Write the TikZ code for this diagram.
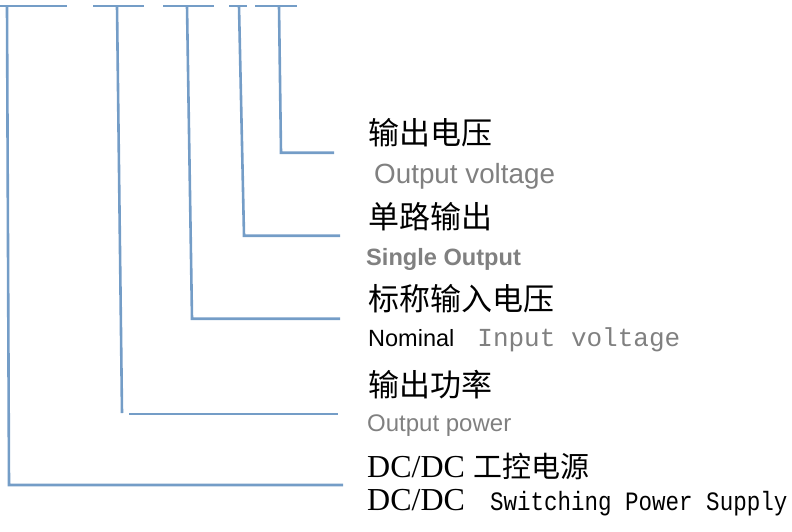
\documentclass[tikz,border=0pt]{standalone}
\usepackage{fontspec}
\setmainfont{Liberation Serif}
\setsansfont{Liberation Sans}
\setmonofont{Liberation Mono}
\newfontfamily\cjk{Noto Sans CJK SC}
\newfontfamily\narrowmono[FakeStretch=0.85]{Liberation Mono}
\usepackage{tikz}
\definecolor{leadblue}{RGB}{116,157,199}
\definecolor{labelgray}{RGB}{128,128,128}

\begin{document}
\begin{tikzpicture}[
  x=1pt, y=-1pt,
  lead/.style={draw=leadblue, line width=2.6pt},
  zh/.style={anchor=base west, inner sep=0pt, font=\cjk\fontsize{31}{31}\selectfont},
  en/.style={anchor=base west, inner sep=0pt, text=labelgray, font=\sffamily\fontsize{27.8}{27.8}\selectfont}
]
\useasboundingbox (0,0) rectangle (792,531);

% Code bars
\draw[lead] (0,6) -- (67,6);
\draw[lead] (93,6) -- (144,6);
\draw[lead] (163,6) -- (214,6);
\draw[lead] (229,6) -- (247,6);
\draw[lead] (255,6) -- (297,6);

% Labels
\node[zh] (vout) at (368,144) {输出电压};
\node[en] (voutE) at (374,183) {Output voltage};
\node[zh] (single) at (368,228) {单路输出};
\node[en, font=\sffamily\bfseries\fontsize{23.6}{23.6}\selectfont] (singleE) at (366,265) {Single Output};
\node[zh] (vin) at (368,310) {标称输入电压};
\node[anchor=base west, inner sep=0pt, font=\sffamily\fontsize{23.5}{23.5}\selectfont] (vinE) at (368,346.5)
  {Nominal\hspace{23pt}\textcolor{labelgray}{\ttfamily\fontsize{26}{26}\selectfont Input voltage}};
\node[zh] (pout) at (368,396) {输出功率};
\node[en, font=\sffamily\fontsize{24}{24}\selectfont] (poutE) at (367,431.5) {Output power};
\node[anchor=base west, inner sep=0pt, font=\fontsize{32}{32}\selectfont] (supply) at (367,477)
  {DC/DC {\cjk\fontsize{29}{29}\selectfont 工控电源}};
\node[anchor=base west, inner sep=0pt, font=\fontsize{32}{32}\selectfont] (supplyE) at (367,510)
  {DC/DC\hspace{25pt}{\narrowmono\fontsize{26.5}{26.5}\selectfont Switching Power Supply}};

% Leader ends
\coordinate (t1) at (7,6);    \coordinate (c1) at (9,485);     \coordinate (e1) at (343,485);
\coordinate (t2) at (117,6);  \coordinate (c2) at (122,413);
\coordinate (s2) at (129,414); \coordinate (e2) at (338,414);
\coordinate (t3) at (187,6);  \coordinate (c3) at (192,318.7); \coordinate (e3) at (340,318.7);
\coordinate (t4) at (239,6);  \coordinate (c4) at (244,235.7); \coordinate (e4) at (340,235.7);
\coordinate (t5) at (279,6);  \coordinate (c5) at (281,152.7); \coordinate (e5) at (334,152.7);

% Leaders
\draw[lead] (t1) -- (c1) -- (e1);
\draw[lead] (t2) -- (c2);
\draw[lead] (s2) -- (e2);
\draw[lead] (t3) -- (c3) -- (e3);
\draw[lead] (t4) -- (c4) -- (e4);
\draw[lead] (t5) -- (c5) -- (e5);
\end{tikzpicture}
\end{document}
